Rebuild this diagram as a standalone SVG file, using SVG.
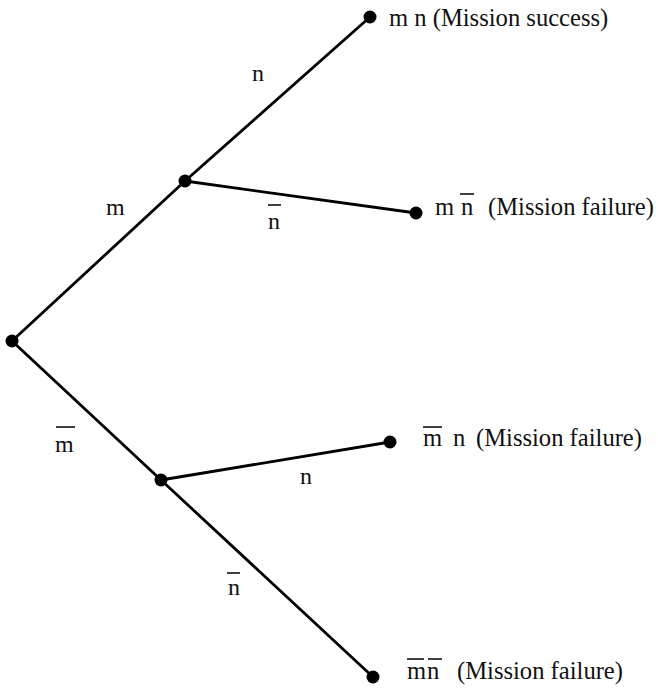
<svg xmlns="http://www.w3.org/2000/svg" width="658" height="690" viewBox="0 0 658 690">
<style>
.edge{stroke:#000;stroke-width:2.8;fill:none;stroke-linecap:round}
.bar{stroke:#000;stroke-width:1.5}
.dot{fill:#000}
.t{font-family:"Liberation Serif","Times New Roman",serif;font-size:24px;fill:#111}
.e{font-family:"Liberation Serif","Times New Roman",serif;font-size:24.6px;fill:#111}
</style>
<rect width="658" height="690" fill="#fff"/>
<g id="connectors">
<line class="edge" x1="12" y1="341" x2="185" y2="181"/>
<line class="edge" x1="185" y1="181" x2="370" y2="17"/>
<line class="edge" x1="185" y1="181" x2="416" y2="213"/>
<line class="edge" x1="12" y1="341" x2="161" y2="480"/>
<line class="edge" x1="161" y1="480" x2="390" y2="442"/>
<line class="edge" x1="161" y1="480" x2="373" y2="677"/>
<text class="t" x="252" y="81">n</text>
<text class="t" x="106" y="215">m</text>
<text class="t" x="268" y="229">n</text><line class="bar" x1="268" y1="205" x2="281" y2="205"/>
<text class="t" x="55" y="452">m</text><line class="bar" x1="56" y1="427" x2="75" y2="427"/>
<text class="t" x="300" y="484">n</text>
<text class="t" x="228" y="595">n</text><line class="bar" x1="227" y1="573" x2="240" y2="573"/>
</g>
<g id="root"><circle class="dot" cx="12" cy="341" r="6.5"/></g>
<g id="upper"><circle class="dot" cx="185" cy="181" r="6.5"/></g>
<g id="lower"><circle class="dot" cx="161" cy="480" r="6.5"/></g>
<g id="mn"><circle class="dot" cx="370" cy="17" r="6.5"/><text class="e" x="389" y="26">m n (Mission success)</text></g>
<g id="mnbar"><circle class="dot" cx="416" cy="213" r="6.5"/><text class="e" y="215"><tspan x="435">m</tspan><tspan x="461">n</tspan><tspan x="488">(Mission failure)</tspan></text><line class="bar" x1="460" y1="194" x2="474" y2="194"/></g>
<g id="mbarn"><circle class="dot" cx="390" cy="442" r="6.5"/><text class="e" y="446"><tspan x="423">m</tspan><tspan x="453">n</tspan><tspan x="476">(Mission failure)</tspan></text><line class="bar" x1="423" y1="427" x2="442" y2="427"/></g>
<g id="mbarnbar"><circle class="dot" cx="373" cy="677" r="6.5"/><text class="e" y="679"><tspan x="407">m</tspan><tspan x="427">n</tspan><tspan x="457">(Mission failure)</tspan></text><line class="bar" x1="407" y1="659" x2="424" y2="659"/><line class="bar" x1="428" y1="659" x2="442" y2="659"/></g>
</svg>
